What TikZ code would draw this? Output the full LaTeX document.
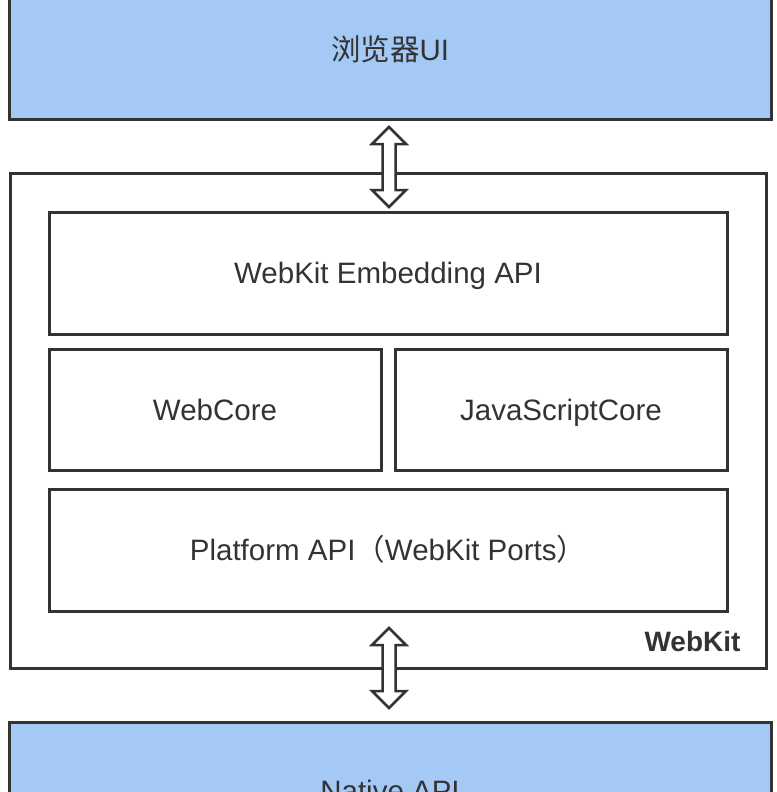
\documentclass[tikz,border=0pt]{standalone}
\usepackage{fontspec}
\setmainfont{Liberation Sans}
\newfontfamily\cjk{Noto Sans CJK SC}
\usetikzlibrary{calc}
\definecolor{uiblue}{HTML}{A4C9F5}
\definecolor{edgegray}{HTML}{333333}

\begin{document}
\begin{tikzpicture}[x=1pt,y=-1pt,
		font=\fontsize{29.5}{35}\selectfont,
		layer/.style={draw=edgegray,line width=3pt,inner sep=0pt,text=edgegray,
			text height=25pt,text depth=4pt},
		outer/.style={layer,fill=uiblue},
		hollow/.style={draw=edgegray,fill=white,line width=2.5pt,line join=miter}]
		\useasboundingbox (0,0) rectangle (776,792);
		\clip (0,0) rectangle (776,792);
		
		\node[outer,minimum width=762pt,minimum height=139pt] (ui) at (390,49.5) {{\cjk 浏览器}UI};
		\node[layer,minimum width=756pt,minimum height=495pt] (webkit) at (388,420.5) {};
		\node[layer,minimum width=678pt,minimum height=122pt] (embed) at (388,273) {WebKit Embedding API};
		\node[layer,minimum width=332pt,minimum height=121pt] (webcore) at (215,409.5) {WebCore};
		\node[layer,minimum width=332pt,minimum height=121pt] (jscore) at (561,409.5) {JavaScriptCore};
		\node[layer,minimum width=678pt,minimum height=122pt] (platform) at (388,550) {Platform API{\cjk （}WebKit Ports{\cjk ）}};
		\node[outer,minimum width=762pt,minimum height=138pt] (native) at (390,791) {Native API};
		\node[anchor=base east,text=edgegray,font=\fontsize{28}{34}\selectfont\bfseries] (wklabel) at (744,651) {WebKit};
		
		% hollow double arrows between the layers
		\coordinate (up) at ($(ui.south)!0.5!(embed.north)+(0,1.5)$);
		\coordinate (down) at ($(platform.south)!0.5!(native.north)+(0,1.5)$);
		\foreach \c in {up,down}
			\draw[hollow] (\c) +(0,-40) -- +(17,-23) -- +(6.5,-23) -- +(6.5,23) -- +(17,23)
				-- +(0,40) -- +(-17,23) -- +(-6.5,23) -- +(-6.5,-23) -- +(-17,-23) -- cycle;
	\end{tikzpicture}
\end{document}
